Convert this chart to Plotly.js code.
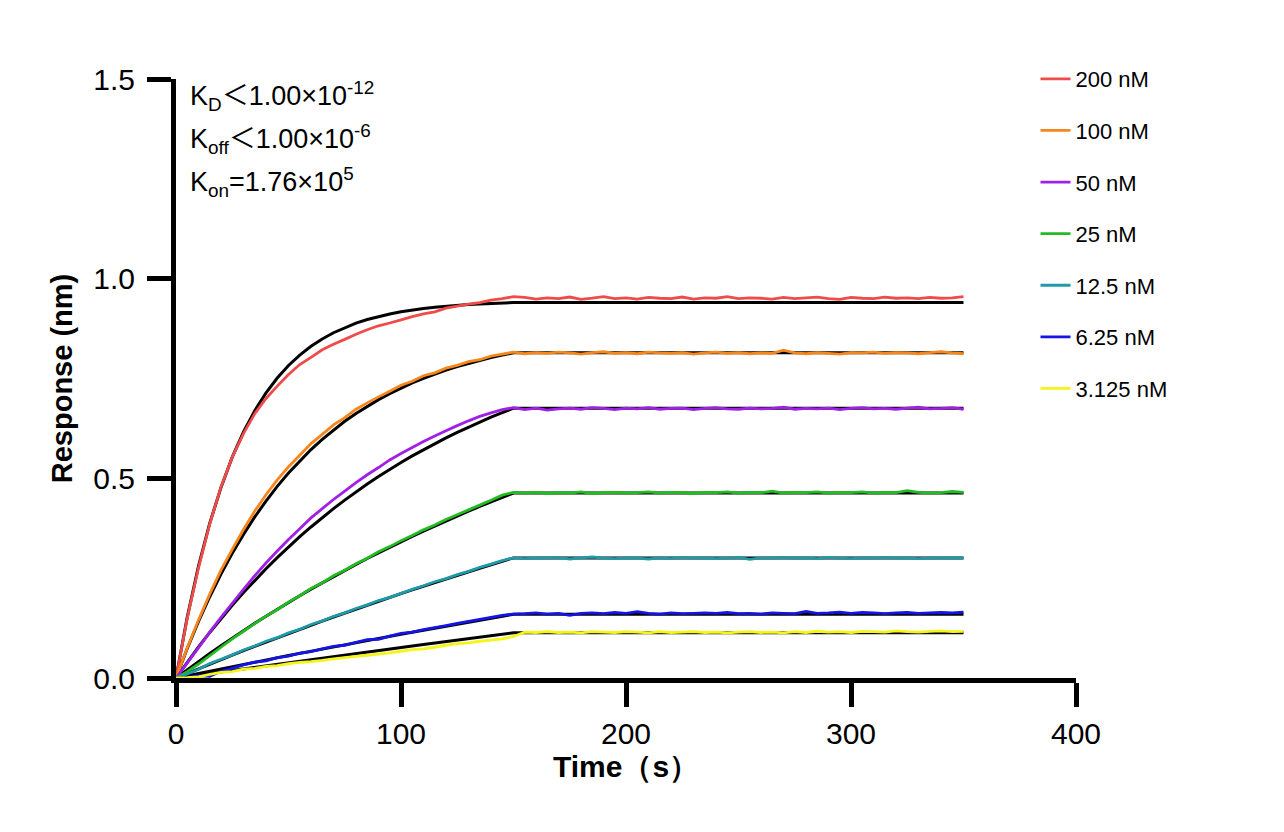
<!DOCTYPE html>
<html>
<head>
<meta charset="utf-8">
<script src="https://cdn.plot.ly/plotly-3.0.1.min.js"></script>
<style>
  html, body { margin: 0; padding: 0; background: #ffffff; }
  #chart { width: 1284px; height: 832px; }
</style>
</head>
<body>
<div id="chart"></div>
<script>
// ---------- data ----------
const seriesNames = ["200 nM", "100 nM", "50 nM", "25 nM", "12.5 nM", "6.25 nM", "3.125 nM"];
const seriesColors = ["#EF4B4B", "#F7861C", "#A020E8", "#22BB22", "#1F9BA8", "#1414E6", "#F5F51A"];

// measured time (s) 0..350 every 5 s
const time = [0,5,10,15,20,25,30,35,40,45,50,55,60,65,70,75,80,85,90,95,100,105,110,115,120,125,130,135,140,145,150,
  155,160,165,170,175,180,185,190,195,200,205,210,215,220,225,230,235,240,245,250,255,260,265,270,275,280,285,290,295,300,
  305,310,315,320,325,330,335,340,345,350];

// measured responses (nm)
const obs200 = [0,.150,.276,.386,.478,.553,.612,.662,.700,.731,.760,.785,.803,.822,.836,.848,.861,.872,.882,.889,.897,.905,.912,.917,.926,.931,.936,.940,.946,.950,.955,
  .953,.949,.952,.950,.954,.948,.951,.955,.950,.952,.949,.953,.951,.950,.954,.949,.952,.951,.955,.950,.952,.951,.949,.953,.950,.952,.954,.950,.948,.953,
  .951,.950,.954,.951,.952,.950,.953,.951,.952,.955];
const obs100 = [0,.075,.145,.210,.270,.322,.372,.418,.459,.496,.529,.558,.587,.610,.634,.652,.673,.689,.704,.718,.733,.743,.757,.764,.776,.783,.792,.797,.806,.811,.816,
  .812,.815,.813,.816,.814,.811,.815,.817,.813,.815,.812,.816,.814,.813,.815,.811,.814,.816,.813,.815,.812,.814,.813,.821,.814,.812,.815,.813,.811,.815,
  .814,.816,.813,.815,.814,.812,.815,.817,.814,.812];
const obs50 = [0,.038,.076,.115,.152,.187,.222,.256,.288,.318,.347,.374,.401,.424,.447,.468,.489,.509,.527,.546,.562,.577,.592,.606,.619,.632,.644,.655,.664,.672,.677,
  .672,.676,.671,.674,.676,.673,.677,.675,.672,.676,.674,.677,.673,.675,.676,.672,.675,.677,.674,.673,.676,.674,.675,.678,.673,.675,.674,.676,.672,.675,
  .677,.674,.675,.673,.676,.678,.674,.675,.677,.673];
const obs25 = [0,.016,.035,.056,.077,.098,.117,.136,.155,.171,.190,.206,.224,.238,.256,.270,.286,.300,.316,.329,.344,.357,.371,.383,.397,.409,.421,.433,.445,.458,.465,
  .463,.465,.462,.464,.463,.466,.462,.464,.465,.463,.464,.466,.463,.465,.464,.462,.465,.464,.466,.463,.465,.464,.468,.463,.465,.464,.466,.463,.465,.464,
  .466,.463,.465,.464,.469,.465,.463,.464,.467,.465];
const obs12_5 = [0,.010,.022,.036,.047,.058,.070,.080,.092,.101,.113,.122,.134,.143,.154,.163,.174,.183,.194,.202,.212,.222,.231,.241,.249,.259,.267,.277,.285,.294,.301,
  .299,.301,.300,.302,.298,.301,.303,.300,.299,.301,.300,.298,.301,.299,.302,.300,.301,.299,.300,.302,.297,.301,.300,.302,.300,.301,.299,.302,.300,.299,
  .301,.300,.302,.300,.301,.299,.301,.300,.301,.300];
const obs6_25 = [0,.001,.006,.004,.017,.024,.033,.040,.043,.051,.055,.062,.066,.073,.079,.082,.089,.096,.097,.105,.112,.115,.121,.126,.131,.137,.142,.147,.152,.157,.160,
  .161,.163,.160,.162,.157,.162,.163,.161,.164,.162,.166,.162,.160,.163,.161,.162,.163,.162,.164,.161,.162,.160,.163,.162,.161,.167,.162,.163,.165,.162,
  .164,.163,.161,.163,.164,.162,.163,.164,.163,.165];
const obs3_125 = [0,.001,.003,.009,.014,.016,.022,.024,.029,.031,.036,.039,.041,.044,.048,.051,.054,.057,.060,.063,.067,.071,.073,.077,.082,.086,.088,.092,.095,.098,.104,
  .115,.114,.116,.114,.115,.113,.116,.115,.114,.116,.115,.113,.116,.114,.115,.116,.114,.115,.113,.115,.116,.114,.115,.113,.116,.114,.117,.115,.116,.114,
  .117,.116,.115,.118,.116,.115,.117,.118,.116,.117];

// fitted curves (black), association to 150 s then flat to 350 s
const fitTime = [0,5,10,15,20,25,30,35,40,45,50,55,60,65,70,75,80,85,90,95,100,105,110,115,120,125,130,135,140,145,150,350];
const fit200 = [0,.1525,.2804,.3876,.4768,.5530,.6163,.6693,.7139,.7512,.7825,.8086,.8307,.8491,.8646,.8775,.8885,.8976,.9052,.9116,.9170,.9216,.9253,.9285,.9312,.9334,.9353,.9368,.9382,.9393,.9402,.9402];
const fit100 = [0,.0738,.1415,.2035,.2602,.3122,.3597,.4033,.4432,.4798,.5132,.5439,.5720,.5977,.6212,.6428,.6625,.6806,.6971,.7122,.7262,.7388,.7505,.7611,.7709,.7798,.7880,.7955,.8024,.8087,.8144,.8144];
const fit50 = [0,.0397,.0776,.1141,.1488,.1821,.2139,.2444,.2736,.3015,.3282,.3538,.3782,.4016,.4240,.4454,.4660,.4856,.5044,.5224,.5396,.5561,.5718,.5869,.6013,.6151,.6283,.6410,.6531,.6647,.6757,.6757];
const fit25 = [0,.0209,.0412,.0613,.0807,.0999,.1186,.1369,.1548,.1723,.1894,.2061,.2225,.2385,.2542,.2696,.2845,.2992,.3136,.3276,.3414,.3548,.3680,.3808,.3934,.4057,.4177,.4295,.4410,.4523,.4633,.4633];
const fit12_5 = [0,.0117,.0233,.0347,.0460,.0573,.0683,.0793,.0901,.1009,.1115,.1219,.1324,.1426,.1527,.1628,.1727,.1825,.1922,.2018,.2113,.2207,.2300,.2392,.2482,.2573,.2661,.2749,.2837,.2922,.3008,.3008];
const fit6_25 = [0,.0058,.0115,.0172,.0228,.0285,.0341,.0397,.0452,.0507,.0562,.0616,.0671,.0725,.0778,.0831,.0884,.0937,.0990,.1042,.1094,.1145,.1197,.1248,.1299,.1349,.1399,.1449,.1499,.1548,.1597,.1597];
const fit3_125 = [0,.0039,.0078,.0117,.0156,.0195,.0234,.0273,.0311,.0350,.0388,.0426,.0464,.0502,.0540,.0578,.0615,.0653,.0690,.0728,.0765,.0802,.0839,.0876,.0913,.0949,.0986,.1022,.1059,.1095,.1131,.1131];

// axis ticks
const xTickVals = [0, 100, 200, 300, 400];
const xTickText = ["0", "100", "200", "300", "400"];
const yTickVals = [0, 0.5, 1.0, 1.5];
const yTickText = ["0.0", "0.5", "1.0", "1.5"];

// kinetic constants text
const kdText = "K<sub>D</sub>＜1.00×10<sup>-12</sup>";
const koffText = "K<sub>off</sub>＜1.00×10<sup>-6</sup>";
const konText = "K<sub>on</sub>=1.76×10<sup>5</sup>";

// ---------- build traces ----------
const observed = [obs200, obs100, obs50, obs25, obs12_5, obs6_25, obs3_125];
const fits = [fit200, fit100, fit50, fit25, fit12_5, fit6_25, fit3_125];
const FONT = "Liberation Sans, Arial, Helvetica, sans-serif";
const ANNOT_FONT = "Liberation Sans, Noto Sans CJK SC, Arial, sans-serif";

const traces = [];
fits.forEach((f, i) => {
  traces.push({
    x: fitTime, y: f, type: "scatter", mode: "lines",
    line: { color: "#000000", width: 3 },
    showlegend: false, hoverinfo: "skip"
  });
});
observed.forEach((o, i) => {
  traces.push({
    x: time, y: o, type: "scatter", mode: "lines",
    name: seriesNames[i], legendgroup: "g" + i,
    line: { color: seriesColors[i], width: 2.8, simplify: false }
  });
});

const layout = {
  width: 1284, height: 832,
  paper_bgcolor: "#ffffff", plot_bgcolor: "#ffffff",
  margin: { l: 176, r: 208, t: 79, b: 154, pad: 0, autoexpand: false },
  font: { family: FONT, color: "#000000" },
  showlegend: true,
  legend: {
    x: 0.955, xanchor: "left", y: 1.035, yanchor: "top",
    font: { family: FONT, size: 22, color: "#000000" },
    traceorder: "grouped", tracegroupgap: 20,
    bgcolor: "rgba(0,0,0,0)", borderwidth: 0
  },
  xaxis: {
    range: [0, 400], tickvals: xTickVals, ticktext: xTickText,
    showgrid: false, zeroline: false,
    showline: true, linecolor: "#000000", linewidth: 5,
    ticks: "outside", ticklen: 24, tickwidth: 5, tickcolor: "#000000",
    ticklabelstandoff: 1,
    tickfont: { family: FONT, size: 30, color: "#000000" },
    title: { text: "Time（s）", standoff: 8,
      font: { family: FONT, size: 30, color: "#000000", weight: "bold" } }
  },
  yaxis: {
    range: [0, 1.5], tickvals: yTickVals, ticktext: yTickText,
    showgrid: false, zeroline: false,
    showline: true, linecolor: "#000000", linewidth: 5,
    ticks: "outside", ticklen: 24, tickwidth: 5, tickcolor: "#000000",
    ticklabelstandoff: 6,
    tickfont: { family: FONT, size: 30, color: "#000000" },
    title: { text: "Response (nm)", standoff: 14,
      font: { family: FONT, size: 29, color: "#000000", weight: "bold" } }
  },
  annotations: [
    { text: kdText, xref: "paper", yref: "paper", x: 0.013, y: 0.972, xanchor: "left", yanchor: "middle",
      showarrow: false, font: { family: ANNOT_FONT, size: 27, color: "#000000" } },
    { text: koffText, xref: "paper", yref: "paper", x: 0.013, y: 0.900, xanchor: "left", yanchor: "middle",
      showarrow: false, font: { family: ANNOT_FONT, size: 27, color: "#000000" } },
    { text: konText, xref: "paper", yref: "paper", x: 0.013, y: 0.828, xanchor: "left", yanchor: "middle",
      showarrow: false, font: { family: ANNOT_FONT, size: 27, color: "#000000" } }
  ]
};

Plotly.newPlot("chart", traces, layout, { staticPlot: true, displayModeBar: false });
</script>
</body>
</html>
